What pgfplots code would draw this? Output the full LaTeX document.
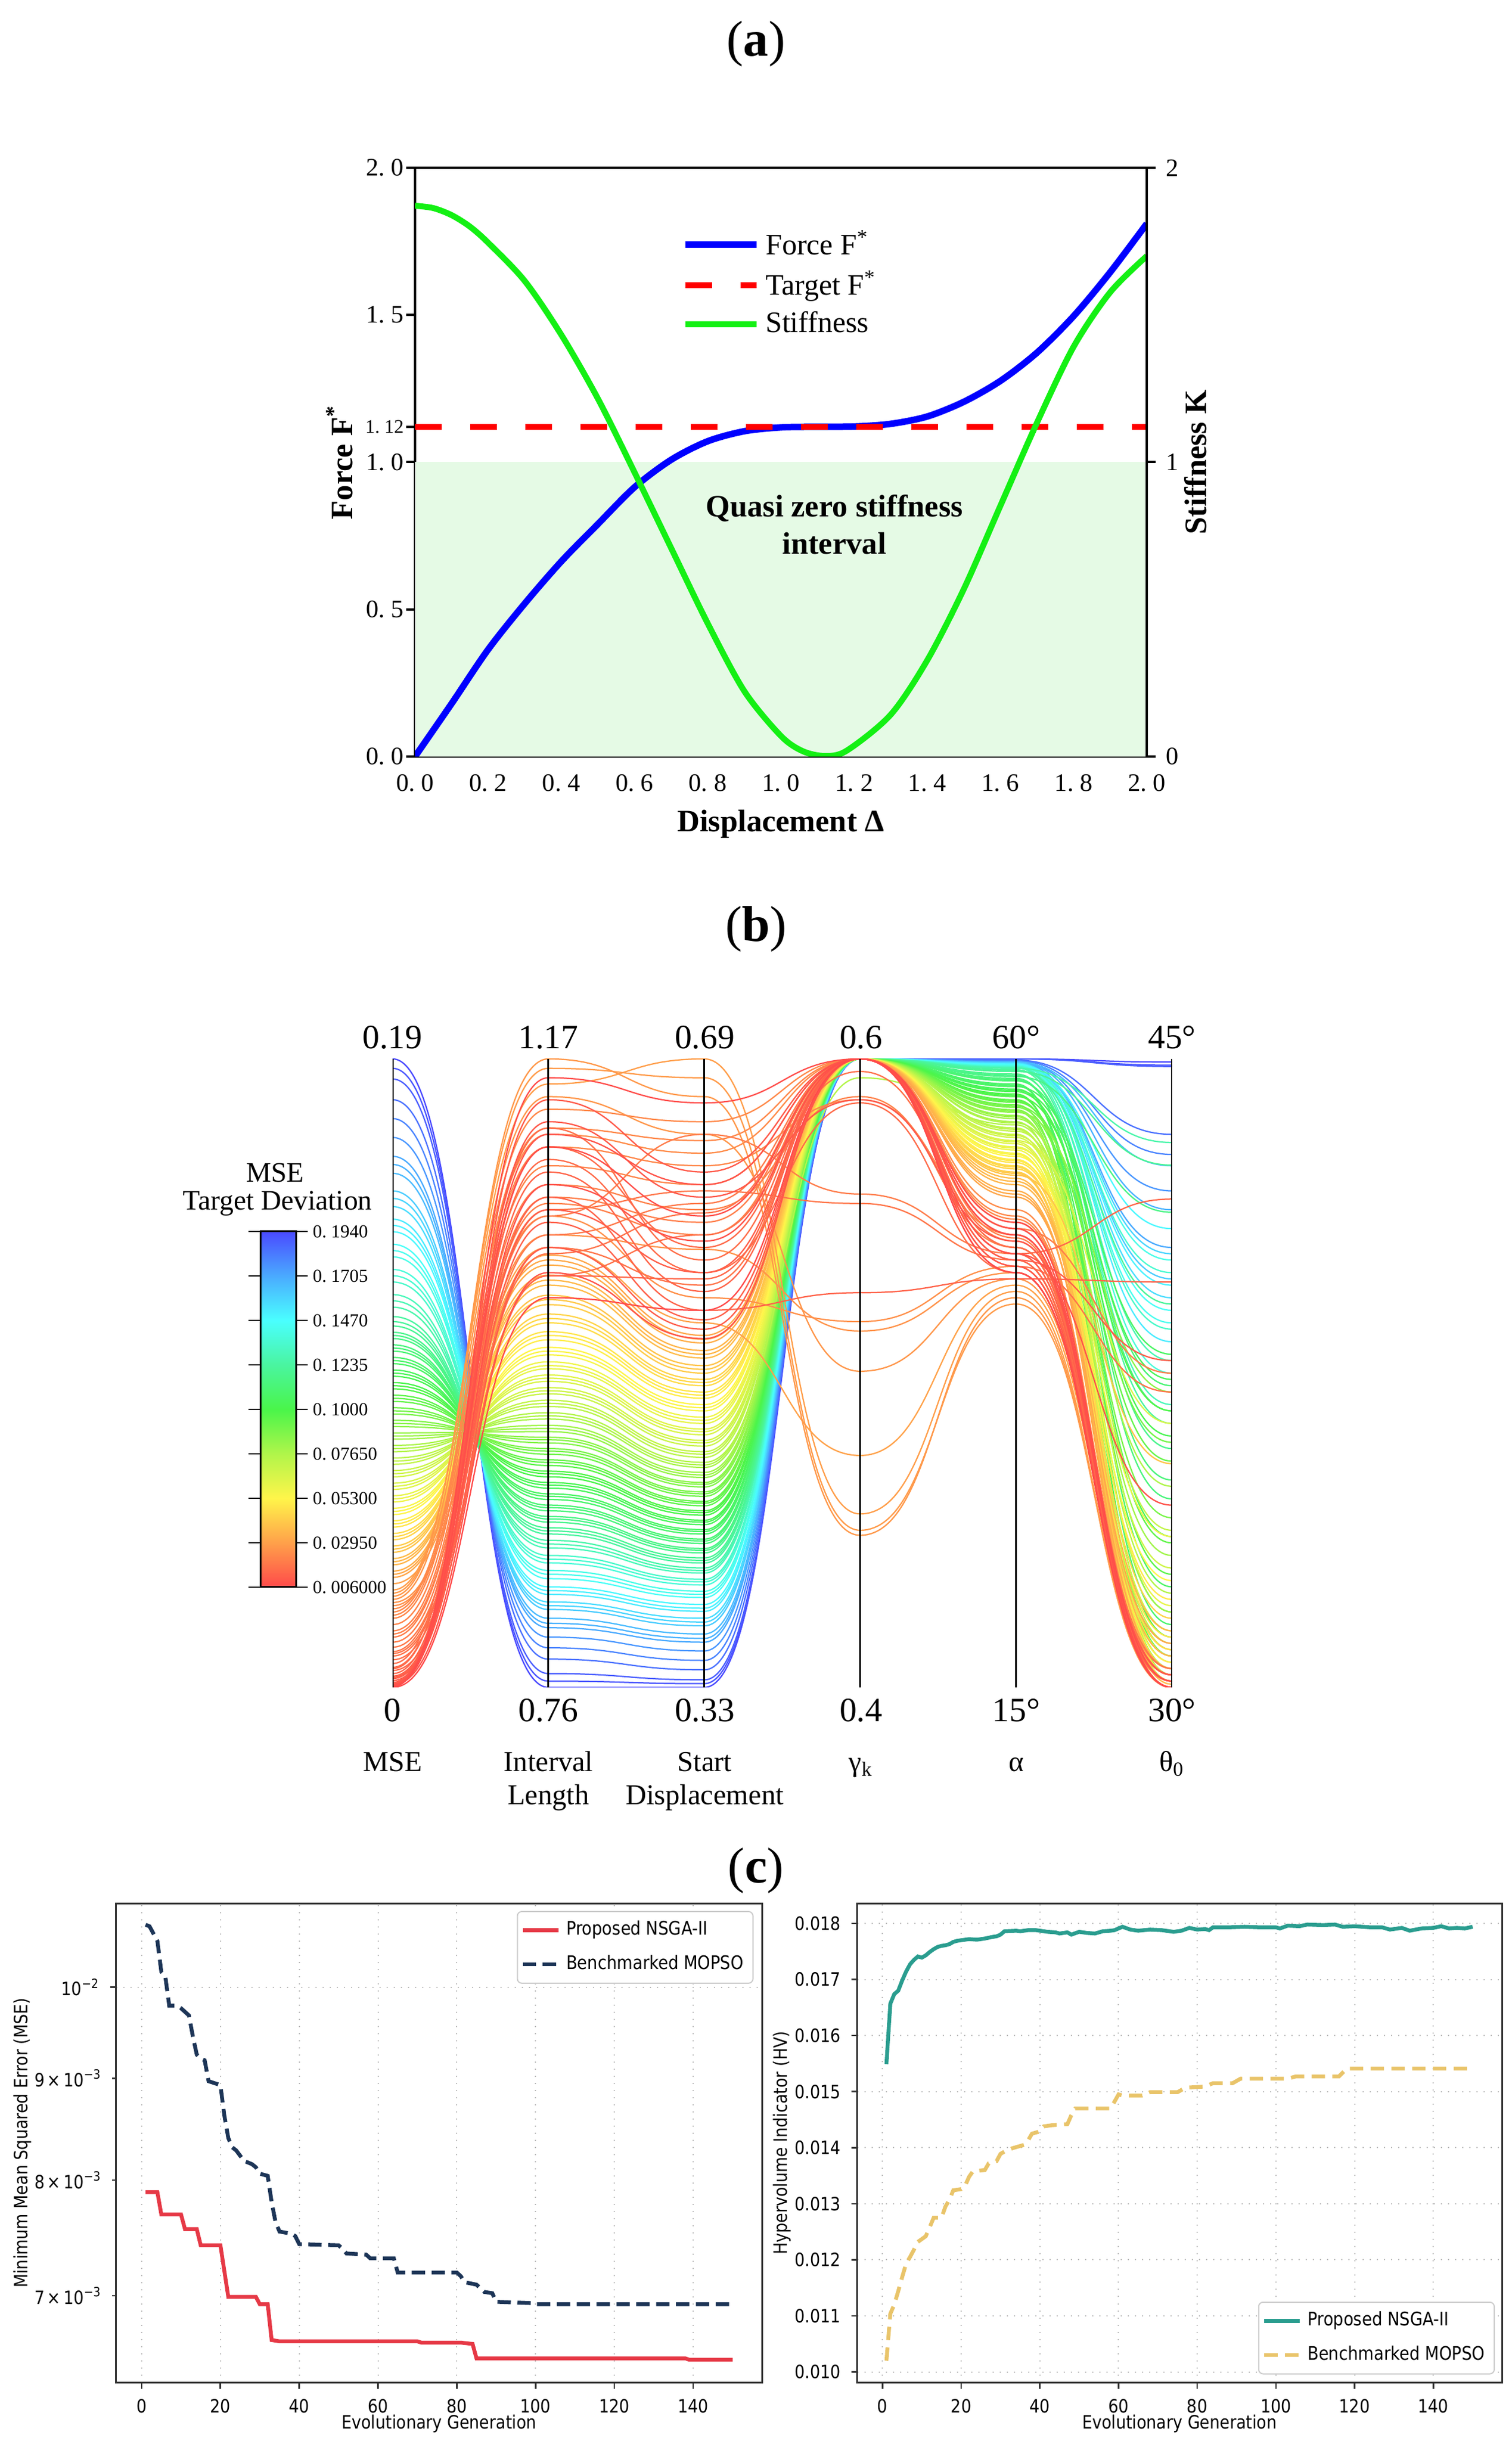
\documentclass[border=0pt]{standalone}
\usepackage{fontspec}
\setmainfont{Liberation Serif}
\newfontfamily\dejavu[FakeStretch=0.87]{DejaVu Sans}
\usepackage{pgfplots}
\pgfplotsset{compat=1.18}
\definecolor{fblue}{RGB}{0,0,255}
\definecolor{tred}{RGB}{255,0,0}
\definecolor{sgreen}{RGB}{20,240,20}
\definecolor{qzs}{RGB}{229,250,229}
\definecolor{nsred}{RGB}{230,57,70}
\definecolor{mpnavy}{RGB}{29,53,87}
\definecolor{nsteal}{RGB}{42,157,143}
\definecolor{mpgold}{RGB}{233,196,106}
% plot handler: cubic pieces with horizontal tangents at every data point
\makeatletter
\def\pgfplothandlerhsmooth{%
  \def\pgf@plotstreamstart{%
    \global\let\pgf@plotstreampoint=\pgf@plot@hs@first
    \global\let\pgf@plotstreamspecial=\@gobble
    \global\let\pgf@plotstreamend=\relax}%
}
\def\pgf@plot@hs@first#1{%
  \pgf@process{#1}%
  \xdef\pgf@hs@lx{\the\pgf@x}\xdef\pgf@hs@ly{\the\pgf@y}%
  \pgf@plot@first@action{\pgfqpoint{\pgf@hs@lx}{\pgf@hs@ly}}%
  \global\let\pgf@plotstreampoint=\pgf@plot@hs@next}
\def\pgf@plot@hs@next#1{%
  \pgf@process{#1}%
  \pgf@xa=\pgf@x \pgf@ya=\pgf@y
  \pgf@xb=\pgf@xa \advance\pgf@xb by -\pgf@hs@lx\relax
  \pgf@xb=0.5\pgf@xb
  \pgf@xc=\pgf@hs@lx\relax \advance\pgf@xc by \pgf@xb
  \edef\pgf@hs@ax{\the\pgf@xc}%
  \pgf@xc=\pgf@xa \advance\pgf@xc by -\pgf@xb
  \edef\pgf@hs@bx{\the\pgf@xc}%
  \edef\pgf@hs@ex{\the\pgf@xa}\edef\pgf@hs@ey{\the\pgf@ya}%
  \edef\pgf@hs@sy{\pgf@hs@ly}%
  \pgfpathcurveto{\pgfqpoint{\pgf@hs@ax}{\pgf@hs@sy}}{\pgfqpoint{\pgf@hs@bx}{\pgf@hs@ey}}{\pgfqpoint{\pgf@hs@ex}{\pgf@hs@ey}}%
  \xdef\pgf@hs@lx{\pgf@hs@ex}\xdef\pgf@hs@ly{\pgf@hs@ey}}
\tikzset{hsmooth/.code={\let\tikz@plot@handler=\pgfplothandlerhsmooth}}
\makeatother
\pgfplotsset{colormap={pc}{rgb255(0cm)=(255,74,74) rgb255(1cm)=(255,160,74) rgb255(2cm)=(255,245,74) rgb255(3cm)=(176,245,74) rgb255(4cm)=(74,245,74) rgb255(5cm)=(74,245,160) rgb255(6cm)=(74,255,255) rgb255(7cm)=(74,170,255) rgb255(8cm)=(74,74,255)}}
\pgfplotsset{ln/.style={hsmooth, line width=0.45pt, color of colormap={#1 of pc}, draw=.}}
\newcommand{\fs}[1]{\fontsize{#1}{#1}\selectfont}
\begin{document}
\begin{tikzpicture}
\useasboundingbox (0,0) rectangle (510pt,823.4pt);
% ---------------- panel labels
\node[font=\fs{17}] at (255pt,808.6pt) {(\textbf{a})};
\node[font=\fs{17}] at (255pt,509.9pt) {(\textbf{b})};
\node[font=\fs{17}] at (255pt,192.4pt) {(\textbf{c})};
% ---------------- (a)
\begin{axis}[at={(140pt,568.2pt)}, anchor=south west, scale only axis,
  width=246.8pt, height=198.6pt,
  xmin=0, xmax=2, ymin=0, ymax=2,
  axis y line*=left,
  axis line style={line width=0.8pt},
  xtick pos=bottom,
  xtick={0,0.2,0.4,0.6,0.8,1,1.2,1.4,1.6,1.8,2},
  xticklabels={0.\ 0,0.\ 2,0.\ 4,0.\ 6,0.\ 8,1.\ 0,1.\ 2,1.\ 4,1.\ 6,1.\ 8,2.\ 0},
  ytick={0,0.5,1,1.5,2},
  yticklabels={0.\ 0,0.\ 5,1.\ 0,1.\ 5,2.\ 0},
  extra y ticks={1.12}, extra y tick labels={1.\ 12},
  extra y tick style={yticklabel style={font=\fs{6.5}}},
  xtick align=inside, ytick align=outside,
  major tick length=3pt,
  tick style={line width=0.8pt, black},
  tick label style={font=\fs{8.5}},
  yticklabel style={inner xsep=0.6pt},
  xticklabel style={yshift=-2.6pt},
  xlabel={\textbf{Displacement Δ}},
  ylabel={\textbf{Force F\textsuperscript{*}}},
  label style={font=\fs{10.5}},
  xlabel style={at={(axis description cs:0.5,-0.115)}, anchor=center},
  ylabel style={at={(axis description cs:-0.103,0.5)}, anchor=center},
  legend style={draw=none, fill=none, at={(axis cs:0.72,1.82)}, anchor=north west,
    font=\fs{10}, row sep=0pt, inner sep=1pt},
  legend cell align=left,
  legend image code/.code={\draw[#1] (0pt,0pt) -- (24pt,0pt);},
]
\addplot[fill=qzs, draw=none, forget plot] coordinates {(0,1) (2,1)} \closedcycle;
\addplot[fblue, line width=2.2pt, smooth] coordinates {
(0,0) (0.1,0.18) (0.2,0.364) (0.3,0.52) (0.4,0.663) (0.5,0.79) (0.6,0.915)
(0.7,1.008) (0.8,1.071) (0.9,1.105) (1.0,1.118) (1.1,1.12) (1.2,1.121) (1.3,1.13)
(1.4,1.155) (1.5,1.205) (1.6,1.276) (1.7,1.372) (1.8,1.496) (1.9,1.645) (2.0,1.81)};
\addlegendentry{Force F\textsuperscript{*}}
\addplot[tred, line width=2pt, dash pattern=on 9pt off 9.6pt] coordinates {(0,1.12) (2,1.12)};
\addlegendentry{Target F\textsuperscript{*}}
\addplot[sgreen, line width=2pt, smooth] coordinates {
(0,1.871) (0.05,1.863) (0.1,1.839) (0.15,1.80) (0.2,1.745) (0.3,1.615) (0.4,1.432) (0.5,1.215) (0.6,0.965)
(0.7,0.708) (0.8,0.452) (0.9,0.222) (1.0,0.07) (1.06,0.018) (1.12,0.002) (1.18,0.02)
(1.3,0.142) (1.4,0.327) (1.5,0.569) (1.6,0.852) (1.7,1.134) (1.8,1.392) (1.9,1.577) (2.0,1.70)};
\addlegendentry{Stiffness}
\node[align=center, font=\bfseries\fs{10.5}, text height=7pt] at (axis cs:1.146,0.723)
  {Quasi zero stiffness\\[2pt]interval};
\end{axis}
\begin{axis}[at={(140pt,568.2pt)}, anchor=south west, scale only axis,
  width=246.8pt, height=198.6pt,
  xmin=0, xmax=2, ymin=0, ymax=2,
  axis y line*=right, axis x line=none,
  axis line style={line width=0.8pt},
  ytick={0,1,2}, yticklabels={0,1,2},
  ytick align=outside, major tick length=3pt,
  tick style={line width=0.8pt, black},
  tick label style={font=\fs{8.5}},
  ylabel={\textbf{Stiffness K}},
  label style={font=\fs{10.5}},
  ylabel style={at={(axis description cs:1.0665,0.5)}, anchor=center},
]
\addplot[draw=none] coordinates {(0,0) (2,2)};
\end{axis}
% ---------------- (b) colorbar
\begin{axis}[at={(87.8pt,408pt)}, anchor=north west, hide axis, scale only axis,
  width=1pt, height=1pt, xmin=0, xmax=1, ymin=0, ymax=1,
  colormap name=pc, point meta min=0.006, point meta max=0.194,
  colorbar, colorbar shift/.style={xshift=0pt},
  colorbar style={at={(parent axis.north west)}, anchor=north west, xshift=0pt,
    width=12pt, height=120pt,
    ytick={0.006,0.0295,0.053,0.0765,0.1,0.1235,0.147,0.1705,0.194},
    yticklabels={0.\ 006000,0.\ 02950,0.\ 05300,0.\ 07650,0.\ 1000,0.\ 1235,0.\ 1470,0.\ 1705,0.\ 1940},
    yticklabel style={font=\fs{6.2}, inner sep=1.5pt},
    tick align=outside, major tick length=4pt,
    tick style={black, line width=0.5pt},
    axis line style={line width=0.6pt}},
]
\addplot[draw=none] coordinates {(0,0)};
\end{axis}
\node[font=\fs{9.5}] at (92.8pt,427.7pt) {MSE};
\node[font=\fs{9.5}] at (93.6pt,417.4pt) {Target Deviation};
% ---------------- (b) parallel coordinates
\begin{axis}[at={(132.4pt,254.2pt)}, anchor=south west, scale only axis,
  width=262.9pt, height=212pt, xmin=0, xmax=5, ymin=0, ymax=1, hide axis, colormap name=pc]
\addplot[ln=1000] coordinates {(0,1.000)(1,0.000)(2,0.000)(3,1)(4,1.000)(5,0.995)};
\addplot[ln=985] coordinates {(0,0.985)(1,0.010)(2,0.006)(3,1)(4,1.000)(5,0.990)};
\addplot[ln=975] coordinates {(0,0.968)(1,0.022)(2,0.012)(3,1)(4,1.000)(5,0.988)};
\addplot[ln=950] coordinates {(0,0.935)(1,0.045)(2,0.028)(3,1)(4,0.998)(5,0.880)};
\addplot[ln=925] coordinates {(0,0.905)(1,0.063)(2,0.043)(3,1)(4,0.997)(5,0.848)};
\addplot[ln=900] coordinates {(0,0.875)(1,0.080)(2,0.058)(3,1)(4,0.996)(5,0.790)};
\addplot[ln=875] coordinates {(0,0.845)(1,0.095)(2,0.072)(3,1)(4,0.995)(5,0.700)};
\addplot[ln=862] coordinates {(0,0.832)(1,0.102)(2,0.078)(3,1)(4,0.995)(5,0.760)};
\addplot[ln=850] coordinates {(0,0.818)(1,0.110)(2,0.085)(3,1)(4,0.995)(5,0.830)};
\addplot[ln=825] coordinates {(0,0.790)(1,0.124)(2,0.098)(3,1)(4,0.994)(5,0.650)};
\addplot[ln=812] coordinates {(0,0.778)(1,0.130)(2,0.104)(3,1)(4,0.993)(5,0.690)};
\addplot[ln=800] coordinates {(0,0.765)(1,0.136)(2,0.110)(3,1)(4,0.993)(5,0.620)};
\addplot[ln=780] coordinates {(0,0.745)(1,0.148)(2,0.121)(3,1)(4,0.992)(5,0.550)};
\addplot[ln=770] coordinates {(0,0.735)(1,0.154)(2,0.126)(3,1)(4,0.992)(5,0.640)};
\addplot[ln=760] coordinates {(0,0.725)(1,0.160)(2,0.132)(3,1)(4,0.991)(5,0.730)};
\addplot[ln=740] coordinates {(0,0.705)(1,0.173)(2,0.143)(3,1)(4,0.990)(5,0.600)};
\addplot[ln=730] coordinates {(0,0.695)(1,0.180)(2,0.148)(3,1)(4,0.990)(5,0.580)};
\addplot[ln=720] coordinates {(0,0.685)(1,0.186)(2,0.153)(3,1)(4,0.989)(5,0.680)};
\addplot[ln=700] coordinates {(0,0.665)(1,0.198)(2,0.163)(3,1)(4,0.988)(5,0.500)};
\addplot[ln=690] coordinates {(0,0.655)(1,0.204)(2,0.168)(3,1)(4,0.988)(5,0.660)};
\addplot[ln=680] coordinates {(0,0.645)(1,0.210)(2,0.172)(3,1)(4,0.987)(5,0.570)};
\addplot[ln=660] coordinates {(0,0.625)(1,0.222)(2,0.182)(3,1)(4,0.986)(5,0.450)};
\addplot[ln=650] coordinates {(0,0.615)(1,0.228)(2,0.186)(3,1)(4,0.986)(5,0.520)};
\addplot[ln=640] coordinates {(0,0.605)(1,0.234)(2,0.190)(3,1)(4,0.985)(5,0.867)};
\addplot[ln=625] coordinates {(0,0.590)(1,0.244)(2,0.198)(3,1)(4,0.983)(5,0.420)};
\addplot[ln=618] coordinates {(0,0.582)(1,0.249)(2,0.202)(3,1)(4,0.982)(5,0.610)};
\addplot[ln=610] coordinates {(0,0.575)(1,0.254)(2,0.206)(3,1)(4,0.980)(5,0.831)};
\addplot[ln=598] coordinates {(0,0.565)(1,0.263)(2,0.214)(3,1)(4,0.976)(5,0.380)};
\addplot[ln=592] coordinates {(0,0.560)(1,0.268)(2,0.218)(3,1)(4,0.974)(5,0.440)};
\addplot[ln=586] coordinates {(0,0.555)(1,0.272)(2,0.221)(3,1)(4,0.972)(5,0.756)};
\addplot[ln=574] coordinates {(0,0.545)(1,0.281)(2,0.229)(3,1)(4,0.969)(5,0.300)};
\addplot[ln=568] coordinates {(0,0.540)(1,0.286)(2,0.233)(3,1)(4,0.967)(5,0.330)};
\addplot[ln=562] coordinates {(0,0.535)(1,0.290)(2,0.236)(3,1)(4,0.965)(5,0.480)};
\addplot[ln=550] coordinates {(0,0.525)(1,0.299)(2,0.244)(3,1)(4,0.960)(5,0.100)};
\addplot[ln=544] coordinates {(0,0.520)(1,0.304)(2,0.248)(3,1)(4,0.958)(5,0.160)};
\addplot[ln=538] coordinates {(0,0.515)(1,0.308)(2,0.251)(3,1)(4,0.956)(5,0.530)};
\addplot[ln=526] coordinates {(0,0.505)(1,0.317)(2,0.259)(3,1)(4,0.952)(5,0.240)};
\addplot[ln=520] coordinates {(0,0.500)(1,0.322)(2,0.263)(3,1)(4,0.950)(5,0.490)};
\addplot[ln=514] coordinates {(0,0.495)(1,0.326)(2,0.266)(3,1)(4,0.948)(5,0.400)};
\addplot[ln=502] coordinates {(0,0.485)(1,0.335)(2,0.274)(3,1)(4,0.944)(5,0.050)};
\addplot[ln=496] coordinates {(0,0.480)(1,0.340)(2,0.278)(3,1)(4,0.942)(5,0.080)};
\addplot[ln=490] coordinates {(0,0.475)(1,0.344)(2,0.281)(3,1)(4,0.940)(5,0.440)};
\addplot[ln=478] coordinates {(0,0.465)(1,0.353)(2,0.289)(3,1)(4,0.935)(5,0.180)};
\addplot[ln=472] coordinates {(0,0.460)(1,0.358)(2,0.293)(3,1)(4,0.933)(5,0.230)};
\addplot[ln=466] coordinates {(0,0.455)(1,0.362)(2,0.296)(3,1)(4,0.931)(5,0.360)};
\addplot[ln=454] coordinates {(0,0.445)(1,0.371)(2,0.304)(3,1)(4,0.927)(5,0.020)};
\addplot[ln=448] coordinates {(0,0.440)(1,0.376)(2,0.308)(3,1)(4,0.925)(5,0.390)};
\addplot[ln=442] coordinates {(0,0.435)(1,0.380)(2,0.311)(3,1)(4,0.923)(5,0.270)};
\addplot[ln=430] coordinates {(0,0.425)(1,0.389)(2,0.319)(3,1)(4,0.919)(5,0.120)};
\addplot[ln=424] coordinates {(0,0.420)(1,0.394)(2,0.323)(3,1)(4,0.917)(5,0.030)};
\addplot[ln=418] coordinates {(0,0.415)(1,0.398)(2,0.326)(3,1)(4,0.915)(5,0.470)};
\addplot[ln=406] coordinates {(0,0.405)(1,0.407)(2,0.334)(3,1)(4,0.910)(5,0.060)};
\addplot[ln=400] coordinates {(0,0.400)(1,0.412)(2,0.338)(3,1)(4,0.908)(5,0.120)};
\addplot[ln=394] coordinates {(0,0.395)(1,0.417)(2,0.342)(3,1)(4,0.905)(5,0.210)};
\addplot[ln=382] coordinates {(0,0.385)(1,0.427)(2,0.350)(3,1)(4,0.900)(5,0.010)};
\addplot[ln=376] coordinates {(0,0.380)(1,0.432)(2,0.354)(3,1)(4,0.898)(5,0.320)};
\addplot[ln=370] coordinates {(0,0.375)(1,0.437)(2,0.358)(3,0.97)(4,0.895)(5,0.150)};
\addplot[ln=358] coordinates {(0,0.365)(1,0.447)(2,0.366)(3,1)(4,0.890)(5,0.040)};
\addplot[ln=352] coordinates {(0,0.360)(1,0.452)(2,0.371)(3,1)(4,0.888)(5,0.070)};
\addplot[ln=346] coordinates {(0,0.355)(1,0.457)(2,0.375)(3,1)(4,0.885)(5,0.250)};
\addplot[ln=334] coordinates {(0,0.345)(1,0.467)(2,0.384)(3,1)(4,0.880)(5,0.030)};
\addplot[ln=328] coordinates {(0,0.340)(1,0.472)(2,0.389)(3,1)(4,0.878)(5,0.190)};
\addplot[ln=322] coordinates {(0,0.335)(1,0.477)(2,0.393)(3,1)(4,0.875)(5,0.090)};
\addplot[ln=310] coordinates {(0,0.325)(1,0.487)(2,0.402)(3,1)(4,0.870)(5,0.420)};
\addplot[ln=304] coordinates {(0,0.320)(1,0.492)(2,0.407)(3,1)(4,0.868)(5,0.050)};
\addplot[ln=298] coordinates {(0,0.315)(1,0.497)(2,0.411)(3,1)(4,0.865)(5,0.020)};
\addplot[ln=286] coordinates {(0,0.305)(1,0.507)(2,0.420)(3,1)(4,0.860)(5,0.130)};
\addplot[ln=280] coordinates {(0,0.300)(1,0.512)(2,0.425)(3,1)(4,0.858)(5,0.240)};
\addplot[ln=274] coordinates {(0,0.295)(1,0.518)(2,0.430)(3,1)(4,0.855)(5,0.060)};
\addplot[ln=262] coordinates {(0,0.285)(1,0.529)(2,0.440)(3,1)(4,0.850)(5,0.010)};
\addplot[ln=256] coordinates {(0,0.280)(1,0.535)(2,0.445)(3,1)(4,0.848)(5,0.030)};
\addplot[ln=250] coordinates {(0,0.275)(1,0.541)(2,0.450)(3,1)(4,0.845)(5,0.170)};
\addplot[ln=238] coordinates {(0,0.265)(1,0.553)(2,0.460)(3,1)(4,0.840)(5,0.040)};
\addplot[ln=232] coordinates {(0,0.260)(1,0.560)(2,0.465)(3,1)(4,0.838)(5,0.140)};
\addplot[ln=226] coordinates {(0,0.255)(1,0.566)(2,0.470)(3,1)(4,0.835)(5,0.080)};
\addplot[ln=214] coordinates {(0,0.245)(1,0.580)(2,0.480)(3,1)(4,0.830)(5,0.020)};
\addplot[ln=208] coordinates {(0,0.240)(1,0.587)(2,0.485)(3,1)(4,0.828)(5,0.060)};
\addplot[ln=202] coordinates {(0,0.235)(1,0.594)(2,0.490)(3,1)(4,0.825)(5,0.110)};
\addplot[ln=190] coordinates {(0,0.225)(1,0.609)(2,0.500)(3,1)(4,0.820)(5,0.030)};
\addplot[ln=184] coordinates {(0,0.220)(1,0.617)(2,0.506)(3,1)(4,0.818)(5,0.010)};
\addplot[ln=178] coordinates {(0,0.215)(1,0.624)(2,0.512)(3,1)(4,0.815)(5,0.356)};
\addplot[ln=166] coordinates {(0,0.205)(1,0.640)(2,0.524)(3,1)(4,0.810)(5,0.005)};
\addplot[ln=160] coordinates {(0,0.200)(1,0.648)(2,0.530)(3,1)(4,0.805)(5,0.090)};
\addplot[ln=156] coordinates {(0,0.195)(1,0.656)(2,0.536)(3,1)(4,0.800)(5,0.050)};
\addplot[ln=146] coordinates {(0,0.185)(1,0.672)(2,0.548)(3,1)(4,0.790)(5,0.010)};
\addplot[ln=140] coordinates {(0,0.180)(1,0.680)(2,0.554)(3,1)(4,0.785)(5,0.030)};
\addplot[ln=136] coordinates {(0,0.175)(1,0.688)(2,0.560)(3,1)(4,0.780)(5,0.070)};
\addplot[ln=128] coordinates {(0,0.165)(1,0.700)(2,0.580)(3,0.369)(4,0.640)(5,0.020)};
\addplot[ln=122] coordinates {(0,0.155)(1,0.960)(2,1.000)(3,0.276)(4,0.630)(5,0.000)};
\addplot[ln=118] coordinates {(0,0.150)(1,0.985)(2,0.970)(3,0.250)(4,0.610)(5,0.010)};
\addplot[ln=114] coordinates {(0,0.145)(1,1.000)(2,0.940)(3,0.242)(4,0.620)(5,0.000)};
\addplot[ln=110] coordinates {(0,0.140)(1,0.940)(2,0.880)(3,0.503)(4,0.650)(5,0.030)};
\addplot[ln=106] coordinates {(0,0.135)(1,0.720)(2,0.697)(3,0.567)(4,0.660)(5,0.000)};
\addplot[ln=102] coordinates {(0,0.130)(1,0.750)(2,0.620)(3,0.582)(4,0.670)(5,0.020)};
\addplot[ln=96] coordinates {(0,0.125)(1,0.880)(2,0.850)(3,1)(4,0.760)(5,0.000)};
\addplot[ln=92] coordinates {(0,0.120)(1,0.920)(2,0.900)(3,1)(4,0.750)(5,0.010)};
\addplot[ln=90] coordinates {(0,0.115)(1,0.890)(2,0.870)(3,1)(4,0.745)(5,0.010)};
\addplot[ln=88] coordinates {(0,0.110)(1,0.860)(2,0.830)(3,0.935)(4,0.720)(5,0.000)};
\addplot[ln=84] coordinates {(0,0.100)(1,0.830)(2,0.800)(3,1)(4,0.740)(5,0.020)};
\addplot[ln=80] coordinates {(0,0.090)(1,0.800)(2,0.760)(3,0.940)(4,0.700)(5,0.000)};
\addplot[ln=78] coordinates {(0,0.085)(1,0.770)(2,0.720)(3,1)(4,0.715)(5,0.000)};
\addplot[ln=76] coordinates {(0,0.080)(1,0.780)(2,0.740)(3,1)(4,0.730)(5,0.500)};
\addplot[ln=72] coordinates {(0,0.072)(1,0.750)(2,0.880)(3,0.785)(4,0.690)(5,0.010)};
\addplot[ln=68] coordinates {(0,0.064)(1,0.720)(2,0.770)(3,1)(4,0.720)(5,0.000)};
\addplot[ln=64] coordinates {(0,0.057)(1,0.760)(2,0.790)(3,0.770)(4,0.680)(5,0.020)};
\addplot[ln=62] coordinates {(0,0.054)(1,0.700)(2,0.640)(3,1)(4,0.700)(5,0.030)};
\addplot[ln=60] coordinates {(0,0.050)(1,0.690)(2,0.755)(3,1)(4,0.670)(5,0.470)};
\addplot[ln=56] coordinates {(0,0.044)(1,0.655)(2,0.720)(3,0.980)(4,0.710)(5,0.000)};
\addplot[ln=52] coordinates {(0,0.038)(1,0.890)(2,0.680)(3,1)(4,0.700)(5,0.010)};
\addplot[ln=48] coordinates {(0,0.032)(1,0.840)(2,0.660)(3,0.930)(4,0.660)(5,0.000)};
\addplot[ln=46] coordinates {(0,0.030)(1,0.860)(2,0.700)(3,1)(4,0.720)(5,0.000)};
\addplot[ln=44] coordinates {(0,0.027)(1,0.655)(2,0.650)(3,1)(4,0.690)(5,0.777)};
\addplot[ln=40] coordinates {(0,0.022)(1,0.820)(2,0.630)(3,1)(4,0.680)(5,0.000)};
\addplot[ln=36] coordinates {(0,0.018)(1,0.780)(2,0.600)(3,0.628)(4,0.650)(5,0.645)};
\addplot[ln=32] coordinates {(0,0.014)(1,0.740)(2,0.585)(3,1)(4,0.660)(5,0.010)};
\addplot[ln=30] coordinates {(0,0.016)(1,0.760)(2,0.660)(3,1)(4,0.690)(5,0.020)};
\addplot[ln=28] coordinates {(0,0.011)(1,0.700)(2,0.570)(3,1)(4,0.680)(5,0.520)};
\addplot[ln=24] coordinates {(0,0.008)(1,0.935)(2,0.820)(3,1)(4,0.730)(5,0.000)};
\addplot[ln=20] coordinates {(0,0.006)(1,0.900)(2,0.780)(3,0.935)(4,0.710)(5,0.020)};
\addplot[ln=16] coordinates {(0,0.004)(1,0.660)(2,0.555)(3,1)(4,0.670)(5,0.000)};
\addplot[ln=14] coordinates {(0,0.005)(1,0.880)(2,0.800)(3,1)(4,0.730)(5,0.000)};
\addplot[ln=12] coordinates {(0,0.003)(1,0.800)(2,0.710)(3,1)(4,0.690)(5,0.290)};
\addplot[ln=8] coordinates {(0,0.002)(1,0.860)(2,0.750)(3,1)(4,0.720)(5,0.000)};
\addplot[ln=4] coordinates {(0,0.001)(1,0.970)(2,0.930)(3,1)(4,0.740)(5,0.010)};
\addplot[ln=0] coordinates {(0,0.000)(1,0.620)(2,0.600)(3,1)(4,0.660)(5,0.000)};
% axis lines
\addplot[black, line width=0.6pt] coordinates {(0,0) (0,1)};
\addplot[black, line width=0.6pt] coordinates {(1,0) (1,1)};
\addplot[black, line width=0.6pt] coordinates {(2,0) (2,1)};
\addplot[black, line width=0.6pt] coordinates {(3,0) (3,1)};
\addplot[black, line width=0.6pt] coordinates {(4,0) (4,1)};
\addplot[black, line width=0.6pt] coordinates {(5,0) (5,1)};
\end{axis}
% labels of (b)
\foreach \xx/\tv/\bv in {132.4/0.19/0, 185.0/1.17/0.76, 237.7/0.69/0.33, 290.4/0.6/0.4, 342.8/60°/15°, 395.3/45°/30°}{
  \node[font=\fs{11.5}, anchor=base] at (\xx pt,469.6pt) {\tv};
  \node[font=\fs{11.5}, anchor=base] at (\xx pt,242.6pt) {\bv};
}
\node[font=\fs{9.7}, anchor=base] at (132.4pt,225.8pt) {MSE};
\node[font=\fs{9.7}, anchor=base] at (185.0pt,225.8pt) {Interval};
\node[font=\fs{9.7}, anchor=base] at (185.0pt,214.6pt) {Length};
\node[font=\fs{9.7}, anchor=base] at (237.7pt,225.8pt) {Start};
\node[font=\fs{9.7}, anchor=base] at (237.7pt,214.6pt) {Displacement};
\node[font=\fs{9.7}, anchor=base] at (290.4pt,225.8pt) {γ\textsubscript{k}};
\node[font=\fs{9.7}, anchor=base] at (342.8pt,225.8pt) {α};
\node[font=\fs{9.7}, anchor=base] at (395.3pt,225.8pt) {θ\textsubscript{0}};
% ---------------- (c) left
\begin{axis}[at={(39.2pt,19.7pt)}, anchor=south west, scale only axis,
  width=217.8pt, height=161.7pt,
  ymode=log, xmin=-6.45, xmax=157.45, ymin=0.00633, ymax=0.01102,
  xtick={0,20,40,60,80,100,120,140}, xticklabels={0,20,40,60,80,100,120,140},
  ytick={0.01}, yticklabels={10\textsuperscript{−2}},
  extra y ticks={0.007,0.008,0.009},
  extra y tick labels={7\hspace{0.15em}×\hspace{0.15em}10\textsuperscript{−3},8\hspace{0.15em}×\hspace{0.15em}10\textsuperscript{−3},9\hspace{0.15em}×\hspace{0.15em}10\textsuperscript{−3}},
  extra y tick style={grid=none, major tick length=1.3pt},
  minor ytick={},
  xtick pos=bottom, ytick pos=left,
  grid=major, grid style={dotted, black!25, line width=0.4pt},
  axis line style={black!80, line width=0.6pt},
  tick style={black!80, line width=0.5pt}, tick align=outside, major tick length=2pt,
  tick label style={font=\dejavu\fs{6.2}, text=black},
  xlabel={Evolutionary Generation}, ylabel={Minimum Mean Squared Error (MSE)},
  label style={font=\dejavu\fs{6.2}, text=black},
  xlabel style={at={(axis description cs:0.5,-0.086)}, anchor=center},
  ylabel style={at={(axis description cs:-0.1455,0.5)}, anchor=center},
  legend style={at={(0.987,0.984)}, anchor=north east, draw=black!20, rounded corners=1.5pt,
    fill=white, font=\dejavu\fs{6.3}, inner sep=1.2pt, row sep=1.2pt, text=black},
  legend cell align=left,
  legend image code/.code={\draw[#1] (0pt,0pt) -- (12pt,0pt);},
]
\addplot[nsred, line width=1.3pt] coordinates {
(1,0.00789) (4,0.00789) (5,0.00769) (10,0.00769) (11,0.00756) (14,0.00756) (15,0.00742)
(20,0.00742) (22,0.00699) (29,0.00699) (30,0.00693) (32,0.00693) (33,0.00665) (35,0.00664)
(70,0.00664) (71,0.00663) (81,0.00663) (84,0.00662) (85,0.00651) (138,0.00651) (139,0.0065) (150,0.0065)};
\addlegendentry{Proposed NSGA-II}
\addplot[mpnavy, line width=1.3pt, dash pattern=on 4.5pt off 2.2pt] coordinates {
(1,0.01075) (2,0.01073) (3,0.01064) (4,0.01055) (5,0.01018) (6,0.01013) (7,0.00979) (9,0.00979)
(10,0.00976) (11,0.00972) (12,0.00968) (13,0.00945) (14,0.00925) (15,0.00921) (16,0.00919)
(17,0.00897) (20,0.00893) (21,0.00862) (22,0.0084) (23,0.00831) (24,0.00828) (25,0.00823)
(26,0.00818) (28,0.00815) (29,0.00812) (30,0.00806) (32,0.00804) (33,0.0078) (34,0.00762)
(35,0.00754) (38,0.00752) (39,0.0075) (40,0.00743) (50,0.00742) (51,0.00739) (52,0.00735)
(57,0.00734) (58,0.00731) (64,0.00731) (65,0.00719) (80,0.00719) (81,0.00716) (82,0.00711)
(85,0.00709) (86,0.00706) (87,0.00703) (89,0.00702) (90,0.00695) (99,0.00694) (100,0.00693) (150,0.00693)};
\addlegendentry{Benchmarked MOPSO}
\end{axis}
% ---------------- (c) right
\begin{axis}[at={(289.1pt,19.7pt)}, anchor=south west, scale only axis,
  width=217.5pt, height=161.7pt,
  xmin=-6.45, xmax=157.45, ymin=0.00981, ymax=0.01836,
  scaled y ticks=false, scaled x ticks=false,
  xtick={0,20,40,60,80,100,120,140}, xticklabels={0,20,40,60,80,100,120,140},
  ytick={0.010,0.011,0.012,0.013,0.014,0.015,0.016,0.017,0.018},
  yticklabels={0.010,0.011,0.012,0.013,0.014,0.015,0.016,0.017,0.018},
  xtick pos=bottom, ytick pos=left,
  grid=major, grid style={dotted, black!25, line width=0.4pt},
  axis line style={black!80, line width=0.6pt},
  tick style={black!80, line width=0.5pt}, tick align=outside, major tick length=2pt,
  tick label style={font=\dejavu\fs{6.2}, text=black},
  xlabel={Evolutionary Generation}, ylabel={Hypervolume Indicator (HV)},
  label style={font=\dejavu\fs{6.2}, text=black},
  xlabel style={at={(axis description cs:0.5,-0.086)}, anchor=center},
  ylabel style={at={(axis description cs:-0.1163,0.5)}, anchor=center},
  legend style={at={(0.989,0.017)}, anchor=south east, draw=black!20, rounded corners=1.5pt,
    fill=white, font=\dejavu\fs{6.3}, inner sep=1.2pt, row sep=1.2pt, text=black},
  legend cell align=left,
  legend image code/.code={\draw[#1] (0pt,0pt) -- (12pt,0pt);},
]
\addplot[nsteal, line width=1.3pt] coordinates {
(1,0.01549) (2,0.01657) (3,0.01674) (4,0.0168) (5,0.01698) (6,0.01714) (7,0.01727) (8,0.01735)
(9,0.01741) (10,0.01739) (11,0.01743) (12,0.01749) (13,0.01754) (14,0.01758) (15,0.0176)
(16,0.01761) (17,0.01763) (18,0.01767) (19,0.01769) (20,0.0177) (22,0.01772) (24,0.01771)
(26,0.01773) (28,0.01776) (29,0.01777) (30,0.0178) (31,0.01786) (34,0.01787) (35,0.01786)
(37,0.01788) (39,0.01788) (40,0.01787) (42,0.01785) (44,0.01784) (45,0.01782) (47,0.01784)
(48,0.0178) (50,0.01785) (52,0.01783) (54,0.01782) (56,0.01786) (58,0.01787) (59,0.01788)
(61,0.01794) (63,0.01789) (65,0.01787) (68,0.01789) (71,0.01788) (74,0.01785) (76,0.01787)
(78,0.01792) (80,0.01789) (82,0.0179) (83,0.01788) (84,0.01793) (88,0.01793) (92,0.01794)
(96,0.01793) (100,0.01793) (101,0.01791) (103,0.01796) (106,0.01795) (108,0.01798) (112,0.01797)
(115,0.01798) (117,0.01794) (120,0.01795) (124,0.01793) (127,0.01793) (129,0.01789) (132,0.01792)
(134,0.01787) (137,0.01791) (140,0.01792) (142,0.01795) (144,0.01791) (146,0.01792) (148,0.01791) (150,0.01794)};
\addlegendentry{Proposed NSGA-II}
\addplot[mpgold, line width=1.3pt, dash pattern=on 4.5pt off 2.5pt] coordinates {
(1,0.0102) (2,0.01104) (3,0.0112) (4,0.01144) (5,0.01169) (6,0.01193) (7,0.01205) (8,0.01218)
(9,0.01232) (11,0.01242) (12,0.01258) (13,0.01275) (15,0.01275) (16,0.01295) (17,0.01307)
(18,0.01324) (20,0.01326) (21,0.01332) (22,0.01348) (23,0.01358) (26,0.0136) (27,0.01372)
(29,0.01376) (30,0.01389) (31,0.01393) (33,0.01399) (35,0.01403) (36,0.01405) (37,0.01413)
(38,0.01425) (40,0.01429) (41,0.01438) (43,0.0144) (47,0.01442) (48,0.01458) (49,0.0147)
(58,0.0147) (60,0.01495) (61,0.01493) (66,0.01493) (68,0.01499) (75,0.01499) (77,0.01507)
(82,0.01509) (84,0.01515) (89,0.01515) (91,0.01523) (103,0.01523) (105,0.01527) (116,0.01527)
(118,0.01541) (150,0.01541)};
\addlegendentry{Benchmarked MOPSO}
\end{axis}
\end{tikzpicture}
\end{document}
